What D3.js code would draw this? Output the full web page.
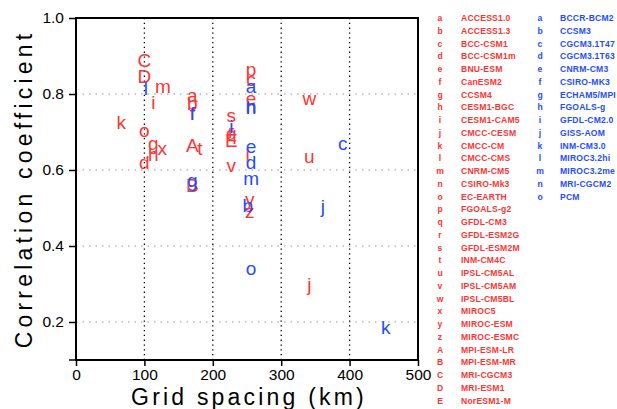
<!DOCTYPE html>
<html>
<head>
<meta charset="utf-8">
<script src="https://cdn.jsdelivr.net/npm/d3@7"></script>
<style>
  body { margin: 0; background: #fff; }
  svg text { font-family: "Liberation Sans", Arial, sans-serif; }
</style>
</head>
<body>
<div id="chart"></div>
<script>
// CMIP5 models (red)
const cmip5Letters = ["a","b","c","d","e","f","g","h","i","j","k","l","m","n","o","p","q","r","s","t","u","v","w","x","y","z","A","B","C","D","E"];
const cmip5Names = ["ACCESS1.0","ACCESS1.3","BCC-CSM1","BCC-CSM1m","BNU-ESM","CanESM2","CCSM4","CESM1-BGC","CESM1-CAM5","CMCC-CESM","CMCC-CM","CMCC-CMS","CNRM-CM5","CSIRO-Mk3","EC-EARTH","FGOALS-g2","GFDL-CM3","GFDL-ESM2G","GFDL-ESM2M","INM-CM4C","IPSL-CM5AL","IPSL-CM5AM","IPSL-CM5BL","MIROC5","MIROC-ESM","MIROC-ESMC","MPI-ESM-LR","MPI-ESM-MR","MRI-CGCM3","MRI-ESM1","NorESM1-M"];
const cmip5Grid = [170,170,256,100,256,170,113,113,113,341,66,251,127,256,100,256,227,227,227,181,341,227,341,126,254,254,170,170,100,100,227];
const cmip5Corr = [0.792,0.776,0.834,0.621,0.784,0.75,0.66,0.642,0.776,0.297,0.726,0.639,0.816,0.763,0.70,0.855,0.687,0.697,0.739,0.658,0.632,0.608,0.784,0.653,0.513,0.487,0.666,0.561,0.889,0.847,0.679];

// CMIP3 models (blue)
const cmip3Letters = ["a","b","c","d","e","f","g","h","i","j","k","l","m","n","o"];
const cmip3Names = ["BCCR-BCM2","CCSM3","CGCM3.1T47","CGCM3.1T63","CNRM-CM3","CSIRO-MK3","ECHAM5/MPI","FGOALS-g","GFDL-CM2.0","GISS-AOM","INM-CM3.0","MIROC3.2hi","MIROC3.2me","MRI-CGCM2","PCM"];
const cmip3Grid = [256,251,390,256,256,170,170,256,227,361,453,102,256,256,256];
const cmip3Corr = [0.816,0.508,0.666,0.621,0.658,0.75,0.561,0.766,0.713,0.503,0.187,0.816,0.574,0.763,0.337];

const xTicks = [0,100,200,300,400,500];
const yTicks = [0.2,0.4,0.6,0.8,1.0];

const red = "#ff3434";
const blue = "#1f4dff";

const width = 617, height = 409;
const plot = { left: 76, right: 418, top: 18, bottom: 360 };

const svg = d3.select("#chart").append("svg")
  .attr("width", width)
  .attr("height", height);

const x = d3.scaleLinear().domain([0, 500]).range([plot.left, plot.right]);
const y = d3.scaleLinear().domain([0.1, 1.0]).range([plot.bottom, plot.top]);

// grid lines
svg.append("g")
  .selectAll("line")
  .data([0.2,0.4,0.6,0.8])
  .join("line")
    .attr("x1", plot.left).attr("x2", plot.right)
    .attr("y1", d => y(d)).attr("y2", d => y(d))
    .attr("stroke", "#bbb")
    .attr("stroke-width", 1.5)
    .attr("stroke-dasharray", "1.5,5");

svg.append("g")
  .selectAll("line")
  .data([100,200,300,400])
  .join("line")
    .attr("x1", d => x(d)).attr("x2", d => x(d))
    .attr("y1", plot.top).attr("y2", plot.bottom)
    .attr("stroke", "#000")
    .attr("stroke-width", 1.3)
    .attr("stroke-dasharray", "1.3,3.5");

// axes
const xAxis = d3.axisBottom(x).tickValues(xTicks).tickSize(6).tickPadding(3).tickFormat(d3.format("d"));
svg.append("g")
  .attr("transform", `translate(0, ${plot.bottom})`)
  .call(xAxis)
  .call(g => g.select(".domain").remove())
  .call(g => g.selectAll("line").attr("stroke-width", 1.5))
  .call(g => g.selectAll("text").attr("font-size", 15.5).attr("fill", "#000"));

const yAxis = d3.axisLeft(y).tickValues(yTicks).tickSize(7).tickPadding(5).tickFormat(d3.format(".1f"));
svg.append("g")
  .attr("transform", `translate(${plot.left}, 0)`)
  .call(yAxis)
  .call(g => g.select(".domain").remove())
  .call(g => g.selectAll("line").attr("stroke-width", 1.5))
  .call(g => g.selectAll("text").attr("font-size", 15.5).attr("fill", "#000"));

// bottom-left end tick
svg.append("line")
  .attr("x1", plot.left - 7).attr("x2", plot.left)
  .attr("y1", plot.bottom).attr("y2", plot.bottom)
  .attr("stroke", "#000").attr("stroke-width", 1.5);

// frame
svg.append("rect")
  .attr("x", plot.left).attr("y", plot.top)
  .attr("width", plot.right - plot.left)
  .attr("height", plot.bottom - plot.top)
  .attr("fill", "none")
  .attr("stroke", "#000")
  .attr("stroke-width", 2);

const thinFont = "Roboto, 'Liberation Sans', sans-serif";

// axis titles
svg.append("text")
  .attr("x", (plot.left + plot.right) / 2 + 2)
  .attr("y", 405)
  .attr("text-anchor", "middle")
  .attr("font-family", thinFont)
  .attr("font-size", 23)
  .attr("font-weight", 300)
  .attr("letter-spacing", 3.2)
  .text("Grid spacing (km)");

svg.append("text")
  .attr("transform", `translate(32, ${(plot.top + plot.bottom) / 2}) rotate(-90)`)
  .attr("text-anchor", "middle")
  .attr("font-family", thinFont)
  .attr("font-size", 23)
  .attr("font-weight", 300)
  .attr("letter-spacing", 4.2)
  .text("Correlation coefficient");

// letter markers: shift baseline so the glyph sits centred on its point
function dyFor(ch) {
  if (/[A-Zbdfhklt]/.test(ch)) return "0.36em";
  if (/[gpqy]/.test(ch)) return "0.14em";
  if (/[ij]/.test(ch)) return "0.3em";
  return "0.26em";
}

function drawMarkers(letters, grid, corr, color) {
  const data = letters.map((l, i) => ({ l, gx: grid[i], c: corr[i] }));
  svg.append("g")
    .selectAll("text")
    .data(data)
    .join("text")
      .attr("x", d => x(d.gx))
      .attr("y", d => y(d.c))
      .attr("dy", d => dyFor(d.l))
      .attr("text-anchor", "middle")
      .attr("font-family", thinFont)
      .attr("font-weight", 300)
      .attr("font-size", 19)
      .attr("fill", color)
      .text(d => d.l);
}

drawMarkers(cmip5Letters, cmip5Grid, cmip5Corr, red);
drawMarkers(cmip3Letters, cmip3Grid, cmip3Corr, blue);

// legends
const rowY = d3.scaleLinear().domain([0, 30]).range([18, 400.5]);

function drawLegend(letters, names, color, letterX, nameX) {
  const g = svg.append("g")
    .attr("font-size", 8.6)
    .attr("font-weight", "bold")
    .attr("fill", color);
  g.selectAll(".lk")
    .data(letters)
    .join("text")
      .attr("class", "lk")
      .attr("x", letterX)
      .attr("y", (d, i) => rowY(i))
      .attr("dy", "0.35em")
      .attr("text-anchor", "middle")
      .text(d => d);
  g.selectAll(".ln")
    .data(names)
    .join("text")
      .attr("class", "ln")
      .attr("x", nameX)
      .attr("y", (d, i) => rowY(i))
      .attr("dy", "0.35em")
      .attr("letter-spacing", 0.2)
      .text(d => d);
}

drawLegend(cmip5Letters, cmip5Names, red, 440, 461);
drawLegend(cmip3Letters, cmip3Names, blue, 540, 560);
</script>
</body>
</html>
